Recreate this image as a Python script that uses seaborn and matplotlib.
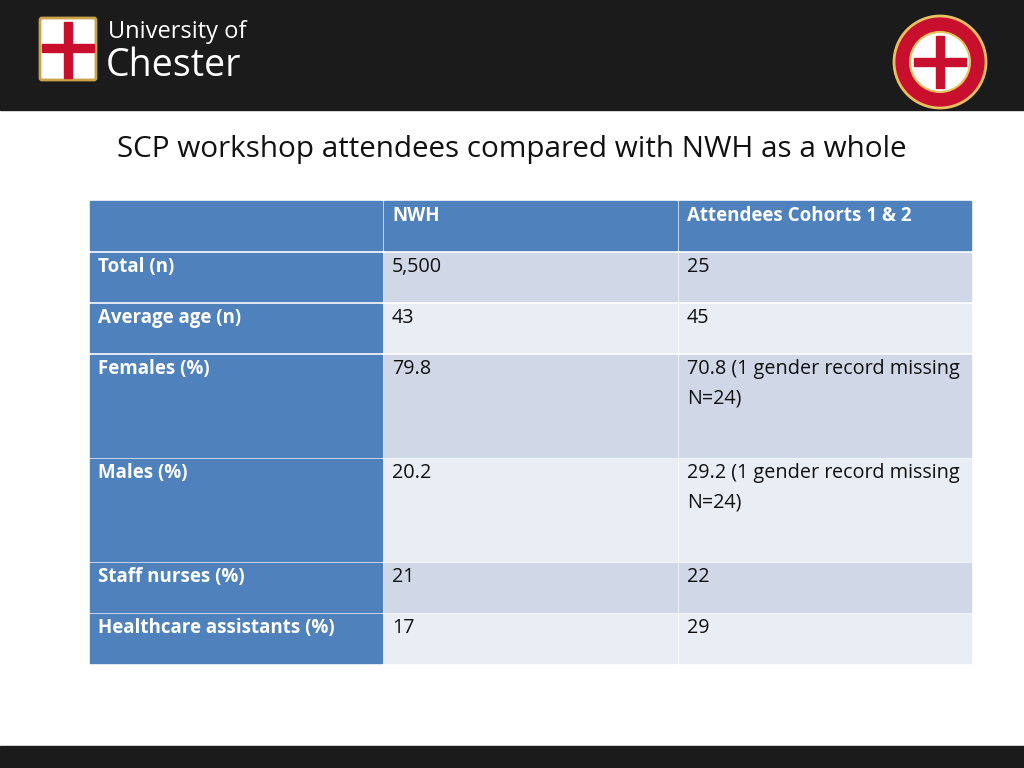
import matplotlib.pyplot as plt
import matplotlib.patches as mpatches
import seaborn as sns

sns.set_theme(style="white")

# table contents
columns = ["", "NWH", "Attendees Cohorts 1 & 2"]
row_labels = ["Total (n)", "Average age (n)", "Females (%)", "Males (%)",
              "Staff nurses (%)", "Healthcare assistants (%)"]
nwh_values = ["5,500", "43", "79.8", "20.2", "21", "17"]
attendee_values = ["25", "45", "70.8 (1 gender record missing\nN=24)",
                   "29.2 (1 gender record missing\nN=24)", "22", "29"]

# layout in pixel coordinates
col_edges = [90, 384, 679, 973]
row_tops = [201, 253, 304, 355, 459, 563, 614]
row_bottoms = [250, 301, 352, 457, 561, 612, 663]

header_blue = "#4F81BD"
light_a = "#D0D8E8"
light_b = "#E9EDF4"
font = "Open Sans"

fig = plt.figure(figsize=(10.24, 7.68), dpi=100)
ax = fig.add_axes([0, 0, 1, 1])
ax.set_xlim(0, 1024)
ax.set_ylim(768, 0)
ax.axis("off")

# black bands
ax.add_patch(mpatches.Rectangle((0, 0), 1024, 110, color="#1b1b1b"))
ax.add_patch(mpatches.Rectangle((0, 746), 1024, 22, color="#1b1b1b"))

# left logo: shield + wordmark
ax.add_patch(mpatches.FancyBboxPatch((42, 20), 52, 58, boxstyle="round,pad=2",
                                     fc="white", ec="#c9a24a", lw=2))
ax.add_patch(mpatches.Rectangle((64, 22), 8, 56, color="#c8102e"))
ax.add_patch(mpatches.Rectangle((42, 44), 52, 8, color="#c8102e"))
ax.text(108, 32, "University of", color="white", fontsize=17, family=font, va="center")
ax.text(106, 66, "Chester", color="white", fontsize=27, family=font, va="center")

# right logo: round seal
ax.add_patch(mpatches.Circle((940, 62), 46, fc="#c8102e", ec="#e8c060", lw=2))
ax.add_patch(mpatches.Circle((940, 62), 30, fc="white", ec="#e8c060", lw=1.5))
ax.add_patch(mpatches.Rectangle((936, 36), 8, 52, color="#c8102e"))
ax.add_patch(mpatches.Rectangle((914, 58), 52, 8, color="#c8102e"))

# title
ax.text(117, 149, "SCP workshop attendees compared with NWH as a whole",
        fontsize=21.3, family=font, color="#111111", va="center")

# header row
for c in range(3):
    x0, x1 = col_edges[c], col_edges[c + 1]
    ax.add_patch(mpatches.Rectangle((x0, row_tops[0]), x1 - x0 - 2,
                                    row_bottoms[0] - row_tops[0], color=header_blue))
    ax.text(x0 + 8, row_tops[0] + 15, columns[c], color="white", fontsize=13.5,
            family=font, weight="bold", va="center")

# body rows
for r, label in enumerate(row_labels):
    top, bottom = row_tops[r + 1], row_bottoms[r + 1]
    fill = light_a if r % 2 == 0 else light_b
    cells = [label, nwh_values[r], attendee_values[r]]
    for c in range(3):
        x0, x1 = col_edges[c], col_edges[c + 1]
        ax.add_patch(mpatches.Rectangle((x0, top), x1 - x0 - 2, bottom - top,
                                        color=header_blue if c == 0 else fill))
        ax.text(x0 + 8, top + 4, cells[c], color="white" if c == 0 else "#111111",
                fontsize=13.5 if c == 0 else 14.2, family=font,
                weight="bold" if c == 0 else "normal",
                va="top", linespacing=1.65)

fig.savefig("out.png", dpi=100)
